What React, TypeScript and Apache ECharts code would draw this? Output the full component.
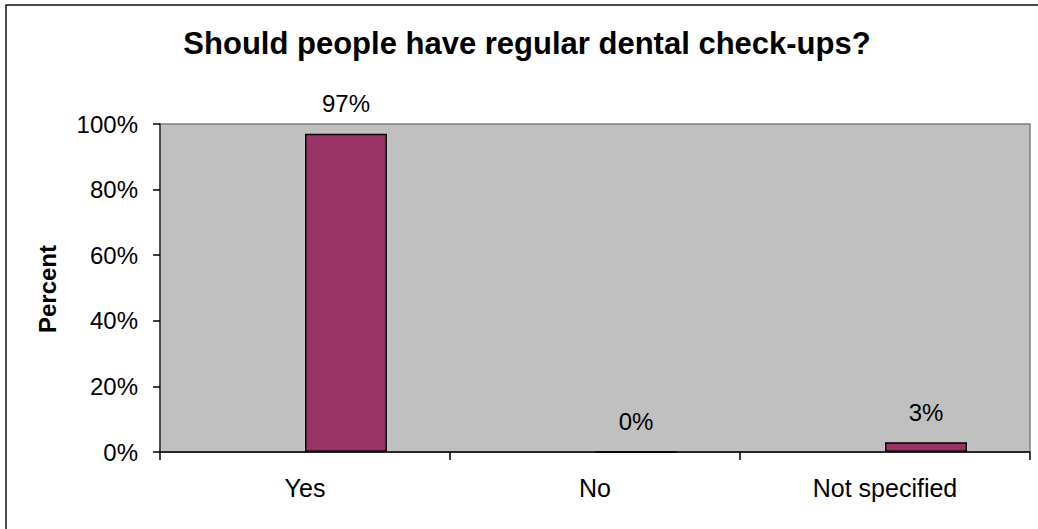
import React, { useEffect, useRef } from "react";
import * as echarts from "echarts";

const categories = ["Yes", "No", "Not specified"];
const percentValues = [97, 0, 3];
const emptySeries = [null, null, null];
const yTicks = [0, 20, 40, 60, 80, 100];

export default function App() {
  const ref = useRef<HTMLDivElement>(null);
  useEffect(() => {
    if (!ref.current) return;
    const chart = echarts.init(ref.current, null, { renderer: "svg" });
    const font = "Arial, 'Liberation Sans', sans-serif";
    chart.setOption({
      animation: false,
      textStyle: { fontFamily: font },
      grid: {
        left: 160,
        top: 124,
        width: 870,
        height: 328,
        show: true,
        backgroundColor: "#C0C0C0",
        borderColor: "#808080",
        borderWidth: 1.5,
      },
      graphic: [
        {
          type: "rect",
          shape: { x: 6, y: 5, width: 1100, height: 600 },
          style: { fill: "none", stroke: "#111", lineWidth: 1.5 },
          silent: true,
        },
        {
          type: "text",
          x: 527,
          y: 43,
          style: {
            text: "Should people have regular dental check-ups?",
            font: `bold 31px ${font}`,
            fill: "#000",
            align: "center",
            verticalAlign: "middle",
          },
        },
        {
          type: "text",
          x: 47,
          y: 289,
          rotation: Math.PI / 2,
          style: {
            text: "Percent",
            font: `bold 24px ${font}`,
            fill: "#000",
            align: "center",
            verticalAlign: "middle",
          },
        },
      ],
      xAxis: {
        type: "category",
        data: categories,
        boundaryGap: true,
        axisLine: { show: true, lineStyle: { color: "#000", width: 1.5 } },
        axisTick: { show: true, alignWithLabel: false, length: 8, lineStyle: { color: "#000", width: 1.5 } },
        axisLabel: { color: "#000", fontSize: 25, fontFamily: font, margin: 23 },
        splitLine: { show: false },
      },
      yAxis: {
        type: "value",
        min: 0,
        max: 100,
        interval: 20,
        axisLine: { show: true, lineStyle: { color: "#333", width: 1.5 } },
        axisTick: { show: true, length: 7, lineStyle: { color: "#000", width: 1.5 } },
        axisLabel: {
          color: "#000",
          fontSize: 24,
          fontFamily: font,
          margin: 22,
          formatter: (v: number) => (yTicks.includes(v) ? `${v}%` : ""),
        },
        splitLine: { show: false },
      },
      series: [
        {
          type: "bar",
          data: emptySeries,
          barWidth: 82,
          barGap: "0%",
          itemStyle: { color: "transparent" },
        },
        {
          type: "bar",
          data: percentValues,
          barWidth: 82,
          barGap: "0%",
          itemStyle: { color: "#993366", borderColor: "#000", borderWidth: 1.5 },
          label: {
            show: true,
            position: "top",
            distance: 18,
            formatter: (p: any) => `${p.value}%`,
            color: "#000",
            fontSize: 24,
            fontFamily: font,
          },
        },
      ],
    });
    return () => chart.dispose();
  }, []);
  return (
    <div
      ref={ref}
      style={{ position: "absolute", left: 0, top: 0, width: 1038, height: 529, background: "#fff" }}
    />
  );
}
